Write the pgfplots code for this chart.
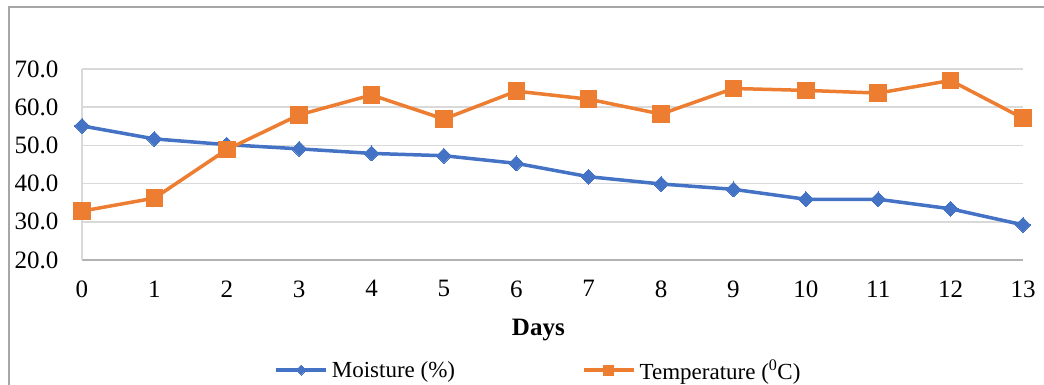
\documentclass[border=0pt]{standalone}
\usepackage{pgfplots}
\pgfplotsset{compat=1.18}
\usepackage{fontspec}
\setmainfont{Liberation Serif}
\definecolor{mblue}{HTML}{4472C4}
\definecolor{morange}{HTML}{ED7D31}
\definecolor{gridgray}{HTML}{D9D9D9}
\definecolor{framegray}{HTML}{A6A6A6}
\begin{document}
\begin{tikzpicture}[x=1pt,y=1pt]
\useasboundingbox (0,0) rectangle (1044,385);
\draw[framegray, line width=1.2pt] (9,0) -- (9,378) -- (1044,378);
\begin{axis}[
  at={(82pt,125pt)}, anchor=south west,
  scale only axis, width=941pt, height=191pt,
  xmin=0, xmax=13, ymin=20, ymax=70,
  xtick={0,...,13}, ytick={20,30,...,70},
  axis x line*=bottom, axis y line*=left,
  axis line style={gridgray, line width=1.5pt, -},
  x axis line style={color=black!30},
  major tick length=0pt,
  ymajorgrids, grid style={gridgray, line width=1.5pt},
  /pgf/number format/assume math mode=true,
  yticklabel={\pgfmathprintnumber[fixed,fixed zerofill,precision=1]{\tick}},
  ticklabel style={font=\fontsize{25}{29}\selectfont},
  yticklabel style={anchor=east, xshift=-20pt},
  xticklabel style={anchor=north, yshift=-17pt},
  xlabel={\textbf{Days}},
  xlabel style={font=\fontsize{25}{29}\selectfont, at={(axis description cs:0.485,0)}, anchor=center, yshift=-70pt},
  legend columns=2,
  legend style={draw=none, fill=none, font=\fontsize{23}{27}\selectfont,
    at={(0.485,-0.576)}, anchor=center,
    /tikz/every even column/.append style={column sep=125pt},
    /tikz/every odd column/.append style={column sep=2pt}},
  legend image code/.code={\draw[mark repeat=2, mark phase=2, #1, mark size=5pt] plot coordinates {(0pt,0pt)(25pt,0pt)(50pt,0pt)};},
  clip=false,
]
\addplot[color=mblue, line width=3.5pt, mark=diamond*, mark size=7.5pt, mark options={xscale=1.33, fill=mblue, draw=mblue, line width=0pt}]
coordinates {(0,55.1)(1,51.7)(2,50.2)(3,49.1)(4,47.9)(5,47.3)(6,45.3)(7,41.8)(8,39.9)(9,38.5)(10,35.9)(11,35.9)(12,33.4)(13,29.2)};
\addlegendentry{Moisture (\%)}
\addplot[color=morange, line width=3.5pt, mark=square*, mark size=8.3pt, mark options={fill=morange, draw=morange, line width=0pt}]
coordinates {(0,32.8)(1,36.2)(2,48.9)(3,58.0)(4,63.2)(5,56.9)(6,64.2)(7,62.1)(8,58.2)(9,64.9)(10,64.4)(11,63.7)(12,67.0)(13,57.1)};
\addlegendentry{Temperature (\textsuperscript{0}C)}
\end{axis}
\end{tikzpicture}
\end{document}
